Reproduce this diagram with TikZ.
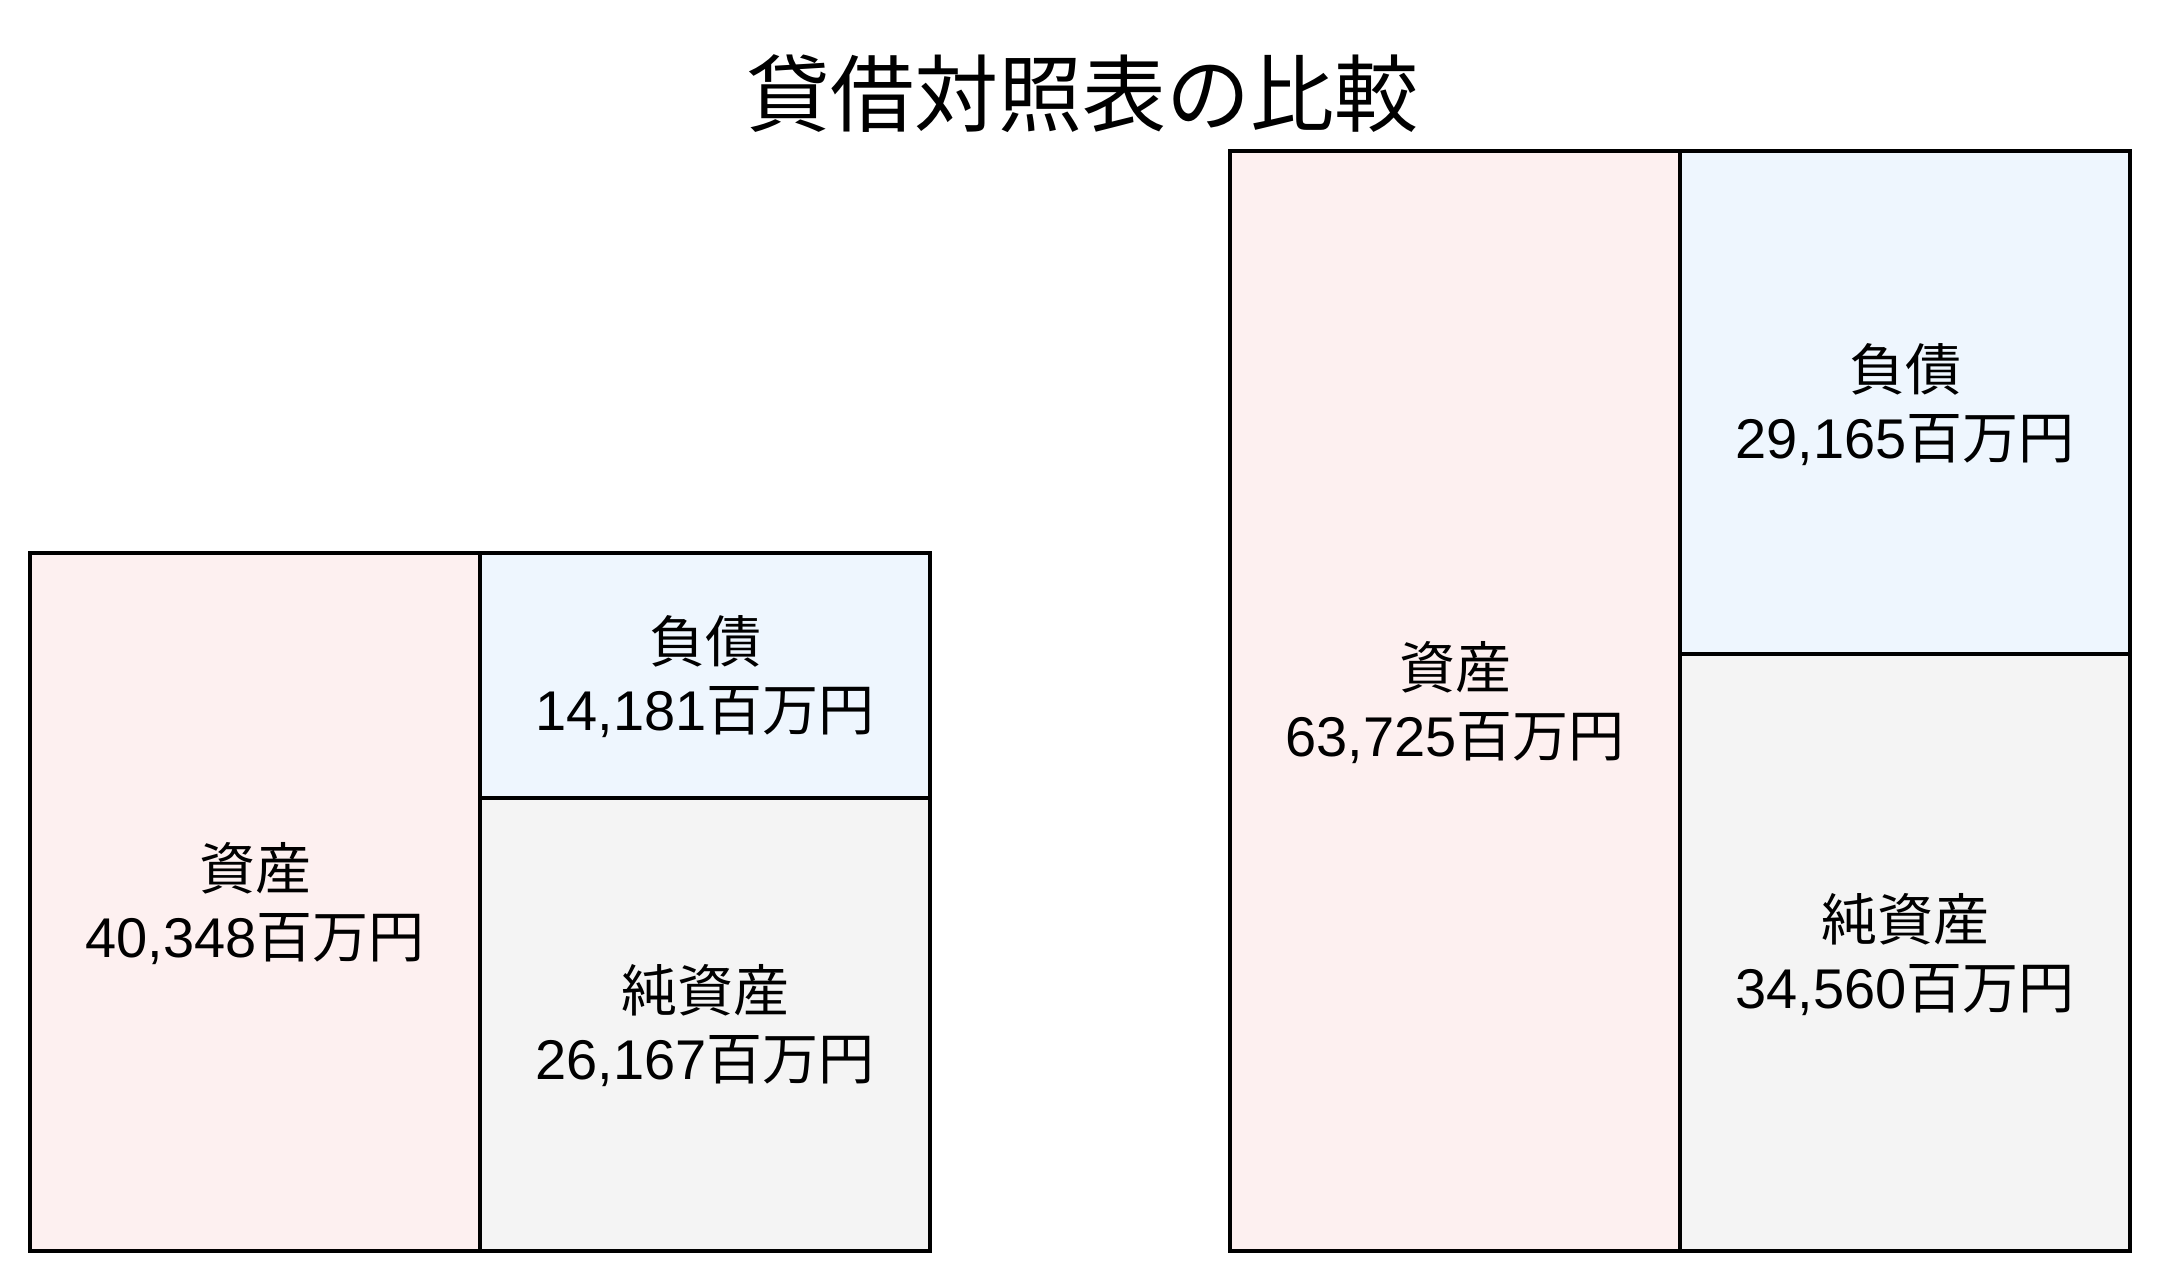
\documentclass[tikz,border=0pt]{standalone}
\usepackage{fontspec}
\setmainfont{Liberation Sans}
\newfontfamily\jp{Noto Sans CJK JP}
\definecolor{assetcol}{RGB}{253,240,240}
\definecolor{liabcol}{RGB}{238,246,254}
\definecolor{netcol}{RGB}{244,244,244}
\tikzset{
  boxline/.style={draw=black, line width=4pt},
  assetbox/.style={boxline, fill=assetcol},
  liabbox/.style={boxline, fill=liabcol},
  netbox/.style={boxline, fill=netcol},
  lbl/.style={align=center, inner sep=0pt, font=\fontsize{56}{68}\selectfont},
}
\begin{document}
\begin{tikzpicture}[x=1pt, y=-1pt]
\useasboundingbox (0,0) rectangle (2160,1282);
\fill[white] (0,0) rectangle (2160,1282);
% title
\node[inner sep=0pt, font=\jp\fontsize{84}{100}\selectfont] (title) at (1082,94) {貸借対照表の比較};
% left chart
\draw[assetbox] (30,552.7) rectangle (480,1251);
\draw[liabbox] (480,552.7) rectangle (930,797.6);
\draw[netbox] (480,797.6) rectangle (930,1251);
\node[lbl] (la) at (255,904) {{\jp 資産}\\40,348{\jp 百万円}};
\node[lbl] (ll) at (705,677) {{\jp 負債}\\14,181{\jp 百万円}};
\node[lbl] (ln) at (705,1026) {{\jp 純資産}\\26,167{\jp 百万円}};
% right chart
\draw[assetbox] (1230,150.7) rectangle (1680,1251);
\draw[liabbox] (1680,150.7) rectangle (2130,654.3);
\draw[netbox] (1680,654.3) rectangle (2130,1251);
\node[lbl] (ra) at (1455,703) {{\jp 資産}\\63,725{\jp 百万円}};
\node[lbl] (rl) at (1905,404.5) {{\jp 負債}\\29,165{\jp 百万円}};
\node[lbl] (rn) at (1905,954.7) {{\jp 純資産}\\34,560{\jp 百万円}};
\end{tikzpicture}
\end{document}
